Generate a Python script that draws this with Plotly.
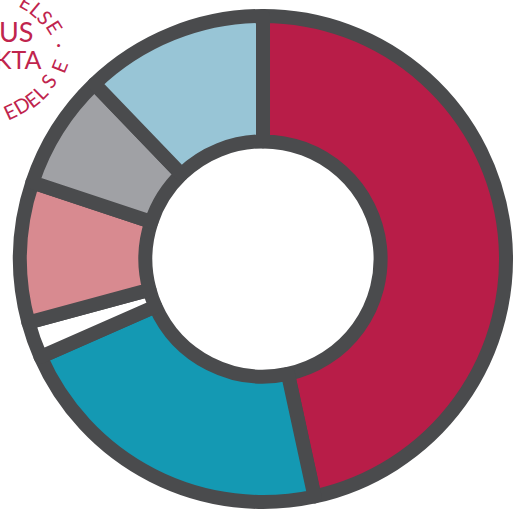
import plotly.graph_objects as go

labels = ["A", "B", "C", "D", "E", "F"]
values = [46.6, 21.8, 2.4, 9.3, 7.7, 12.2]
colors = ["#b81d48", "#1499b3", "#ffffff", "#d88a90", "#a0a1a5", "#98c5d6"]

W, H = 514, 511
cx, cy, R = 263, 259, 243

fig = go.Figure(go.Pie(
    labels=labels, values=values, sort=False, direction="clockwise", rotation=0,
    hole=0.484, textinfo="none", hoverinfo="skip",
    marker=dict(colors=colors, line=dict(color="#4a4b4d", width=14)),
    domain=dict(x=[(cx - R) / W, (cx + R) / W], y=[(H - cy - R) / H, (H - cy + R) / H]),
    showlegend=False,
))

# stamp text (cropped logo in the corner): (text, px, py, angle, size)
stamp = [
    ("E", 27, 2, 30, 20), ("L", 37, 9, 40, 20), ("S", 45, 17, 50, 20), ("E", 55, 27, 58, 20),
    ("·", 58, 43, 0, 20),
    ("US", 16, 31, 0, 27),
    ("KTA", 18, 59, 0, 25),
    ("E", 10, 111, -25, 20), ("D", 21, 105, -30, 20), ("E", 32, 99, -38, 20),
    ("L", 40, 92, -45, 20), ("S", 48, 81, -55, 20), ("E", 59, 66, -68, 20),
]
anns = []
for t, px, py, ang, fs in stamp:
    anns.append(dict(text=t, x=px / W, y=1 - py / H, xref="paper", yref="paper",
                     xanchor="center", yanchor="middle",
                     showarrow=False, textangle=ang,
                     font=dict(family="Lato", size=fs, color="#c0244d")))

fig.update_layout(width=W, height=H, margin=dict(l=0, r=0, t=0, b=0),
                  paper_bgcolor="white", plot_bgcolor="white", annotations=anns)
fig.write_html("out.html", config={"displayModeBar": False},
               post_script="document.body.style.margin='0';")
